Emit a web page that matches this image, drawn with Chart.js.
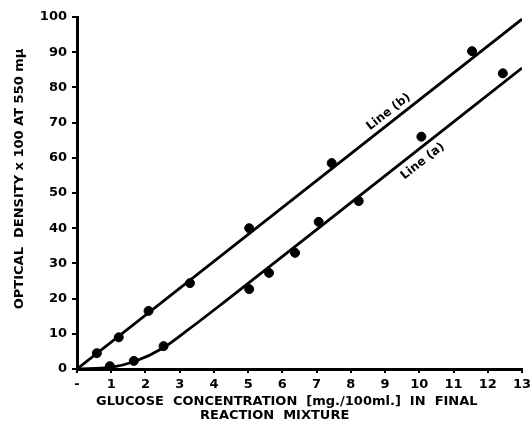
<!DOCTYPE html>
<html>
<head>
<meta charset="utf-8">
<script src="https://cdn.jsdelivr.net/npm/chart.js@4/dist/chart.umd.min.js"></script>
<style>
    html, body { margin: 0; padding: 0; background: #fff; }
    #wrap { width: 531px; height: 424px; }
</style>
</head>
<body>
<div id="wrap"><canvas id="glucoseChart" width="531" height="424"></canvas></div>
<script>
// Datos
const lineBPointsX = [0.58, 1.22, 2.09, 3.3, 5.03, 7.44, 11.54];
const lineBPointsY = [4.5, 9, 16.5, 24.4, 40, 58.5, 90.3];
const lineAPointsX = [0.96, 1.66, 2.53, 5.03, 5.61, 6.37, 7.06, 8.23, 10.06, 12.44];
const lineAPointsY = [0.8, 2.3, 6.5, 22.7, 27.3, 33, 41.8, 47.7, 66, 84];

// Rectas / curva ajustadas
const lineBFitX = [0, 13];
const lineBFitY = [0, 99.4];
const lineAFitX = [0, 1, 1.7, 2.5, 3.2, 4.3, 7, 13];
const lineAFitY = [0, 0.5, 2.2, 5.9, 10.8, 19, 39.6, 85.5];

const xTickValues = [0, 1, 2, 3, 4, 5, 6, 7, 8, 9, 10, 11, 12, 13];
const yTickValues = [0, 10, 20, 30, 40, 50, 60, 70, 80, 90, 100];

const lineLabels = ['Line (b)', 'Line (a)'];
const lineLabelX = [9.1, 10.1];
const lineLabelY = [73, 59];

const yTitle = 'OPTICAL  DENSITY x 100 AT 550 mμ';
const xTitle = ['GLUCOSE  CONCENTRATION  [mg./100ml.]  IN  FINAL', 'REACTION  MIXTURE'];

const toXY = (xs, ys) => xs.map((x, i) => ({ x: x, y: ys[i] }));

const FONT = 'DejaVu Sans';

// Textos: títulos de ejes y etiquetas de las rectas
const textPlugin = {
    id: 'textPlugin',
    afterDraw(chart) {
        const ctx = chart.ctx;
        const xs = chart.scales.x;
        const ys = chart.scales.y;
        const area = chart.chartArea;
        ctx.save();
        ctx.fillStyle = '#000';

        // Título eje Y
        ctx.font = 'bold 13px "' + FONT + '"';
        ctx.textAlign = 'center';
        ctx.textBaseline = 'middle';
        ctx.save();
        ctx.translate(20, area.top + (area.bottom - area.top) * 0.46);
        ctx.rotate(-Math.PI / 2);
        ctx.fillText(yTitle, 0, 0);
        ctx.restore();

        // Título eje X (dos líneas)
        ctx.textAlign = 'left';
        ctx.fillText(xTitle[0], 96, 402);
        ctx.fillText(xTitle[1], 200, 416);

        // Etiquetas inclinadas
        const ang = Math.atan2(
            ys.getPixelForValue(lineBFitY[1]) - ys.getPixelForValue(lineBFitY[0]),
            xs.getPixelForValue(lineBFitX[1]) - xs.getPixelForValue(lineBFitX[0])
        );
        ctx.font = 'bold 12px "' + FONT + '"';
        ctx.textAlign = 'center';
        lineLabels.forEach((txt, i) => {
            ctx.save();
            ctx.translate(xs.getPixelForValue(lineLabelX[i]), ys.getPixelForValue(lineLabelY[i]));
            ctx.rotate(ang);
            ctx.fillText(txt, 0, 0);
            ctx.restore();
        });
        ctx.restore();
    }
};

const ctx = document.getElementById('glucoseChart').getContext('2d');
new Chart(ctx, {
    type: 'scatter',
    data: {
        datasets: [
            {
                type: 'line',
                data: toXY(lineBFitX, lineBFitY),
                borderColor: '#000',
                borderWidth: 2.8,
                pointRadius: 0,
                fill: false
            },
            {
                type: 'line',
                data: toXY(lineAFitX, lineAFitY),
                borderColor: '#000',
                borderWidth: 2.8,
                pointRadius: 0,
                cubicInterpolationMode: 'monotone',
                fill: false
            },
            {
                data: toXY(lineBPointsX, lineBPointsY),
                backgroundColor: '#000',
                borderColor: '#000',
                pointRadius: 4.5
            },
            {
                data: toXY(lineAPointsX, lineAPointsY),
                backgroundColor: '#000',
                borderColor: '#000',
                pointRadius: 4.5
            }
        ]
    },
    options: {
        responsive: false,
        animation: false,
        layout: { padding: { top: 17, right: 9, left: 0, bottom: 0 } },
        plugins: {
            legend: { display: false },
            tooltip: { enabled: false }
        },
        elements: { point: { hitRadius: 0 } },
        scales: {
            x: {
                type: 'linear',
                min: 0,
                max: 13,
                afterBuildTicks: (s) => { s.ticks = xTickValues.map(v => ({ value: v })); },
                afterFit: (s) => { s.height = 55; s.paddingRight = 0; s.paddingLeft = 0; },
                ticks: {
                    autoSkip: false,
                    maxRotation: 0,
                    padding: 4,
                    color: '#000',
                    font: { family: FONT, size: 13, weight: 'bold' },
                    callback: (v) => v === 0 ? '-' : String(v)
                },
                grid: { drawOnChartArea: false, drawTicks: true, tickLength: 4, color: '#000', lineWidth: 2 },
                border: { display: true, color: '#000', width: 3 }
            },
            y: {
                type: 'linear',
                min: 0,
                max: 100,
                afterBuildTicks: (s) => { s.ticks = yTickValues.map(v => ({ value: v })); },
                afterFit: (s) => { s.width = 77; },
                ticks: {
                    padding: 5,
                    color: '#000',
                    font: { family: FONT, size: 13, weight: 'bold' }
                },
                grid: { drawOnChartArea: false, drawTicks: true, tickLength: 5, color: '#000', lineWidth: 2 },
                border: { display: true, color: '#000', width: 3 }
            }
        }
    },
    plugins: [textPlugin]
});
</script>
</body>
</html>
